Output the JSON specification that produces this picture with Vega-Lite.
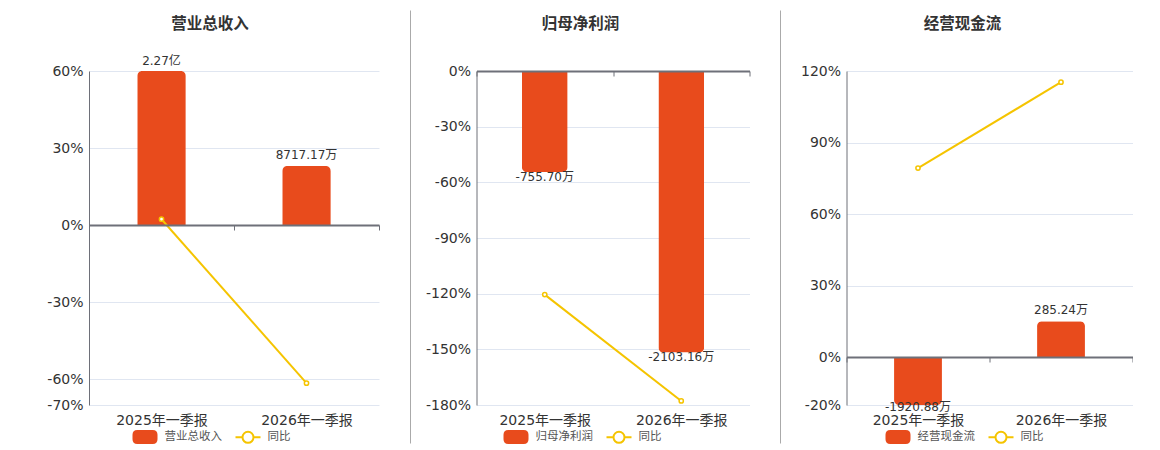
{
  "$schema": "https://vega.github.io/schema/vega-lite/v6.json",
  "padding": {"left": 46, "top": 10, "right": 0, "bottom": 0},
  "config": {
    "font": "DejaVu Sans, Noto Sans CJK SC",
    "view": {"stroke": null},
    "axis": {"labelFont": "DejaVu Sans, Noto Sans CJK SC", "labelColor": "#333", "labelFontSize": 14, "gridColor": "#e0e6f1", "domainColor": "#6e7079", "title": null},
    "legend": {"labelFont": "Noto Sans CJK SC", "labelFontSize": 11.5, "labelColor": "#555", "padding": 0}
  },
  "resolve": {"scale": {"color": "independent"}, "legend": {"color": "independent"}},
  "spacing": 30,
  "hconcat": [
    {
      "width": 290, "height": 334,
      "title": {"text": "营业总收入", "frame": "group", "anchor": "middle", "dx": -24, "offset": 15.5, "baseline": "middle", "fontSize": 15.5, "fontWeight": "bold", "color": "#333", "font": "Noto Sans CJK SC"},
      "data": {"values": [
        {"period": "2025年一季报", "amount": 22700, "label": "2.27亿", "yoy": 2.3},
        {"period": "2026年一季报", "amount": 8717.17, "label": "8717.17万", "yoy": -61.5}
      ]},
      "layer": [
        {"layer": [
          {"mark": {"type": "bar", "color": "#e84b1c", "width": {"band": 0.335}, "cornerRadiusTopLeft": 5, "cornerRadiusTopRight": 5},
           "encoding": {
             "x": {"field": "period", "type": "nominal", "sort": null, "scale": {"paddingInner": 0, "paddingOuter": 0},
                   "axis": {"orient": "bottom", "offset": -180, "labels": false, "domain": true, "domainWidth": 2, "ticks": true, "tickBand": "extent", "tickSize": 5, "tickColor": "#6e7079", "grid": false, "zindex": 1}},
             "y": {"field": "amount", "type": "quantitative", "scale": {"domain": [-26483, 22700], "nice": false, "zero": false}, "axis": null},
             "color": {"datum": "营业总收入", "scale": {"domain": ["营业总收入", "同比"], "range": ["#e84b1c", "#f5c400"]},
                       "legend": {"orient": "none", "legendX": 42.5, "legendY": 352.3, "direction": "horizontal", "title": null, "symbolSize": 625, "labelOffset": 6, "columnPadding": 9,
                                  "encode": {"symbols": {"update": {
                                    "shape": {"signal": "datum.value === '同比' ? 'M-1,0H-0.44M0.44,0H1M0.44,0A0.44,0.44 0 1 1 -0.44,0A0.44,0.44 0 1 1 0.44,0ZM0.44,0A0.44,0.44 0 1 0 -0.44,0A0.44,0.44 0 1 0 0.44,0Z' : 'M-0.62,-0.48H0.62Q0.92,-0.48 0.92,-0.18V0.18Q0.92,0.48 0.62,0.48H-0.62Q-0.92,0.48 -0.92,0.18V-0.18Q-0.92,-0.48 -0.62,-0.48Z'"},
                                    "fill": {"signal": "datum.value === '同比' ? '#ffffff' : '#e84b1c'"},
                                    "stroke": {"signal": "datum.value === '同比' ? '#f5c400' : '#e84b1c'"},
                                    "strokeWidth": {"value": 2}, "opacity": {"value": 1}, "fillOpacity": {"value": 1}, "strokeOpacity": {"value": 1}}}}}}
           }},
          {"mark": {"type": "text", "baseline": "middle", "dy": -10.5, "fontSize": 12, "color": "#333"},
           "encoding": {
             "x": {"field": "period", "type": "nominal", "sort": null},
             "y": {"field": "amount", "type": "quantitative"},
             "text": {"field": "label"}
           }}
        ]},
        {"layer": [
          {"mark": {"type": "line", "strokeWidth": 2},
           "encoding": {
             "x": {"field": "period", "type": "nominal", "sort": null, "axis": {"orient": "bottom", "domain": false, "ticks": false, "tickSize": 0, "labelPadding": 8, "grid": false, "labelAngle": 0}},
             "y": {"field": "yoy", "type": "quantitative", "scale": {"domain": [-70, 60], "nice": false, "zero": false},
                   "axis": {"orient": "left", "values": [60, 30, 0, -30, -60, -70], "labelExpr": "datum.value + '%'", "domain": true, "domainWidth": 1, "ticks": false, "tickSize": 0, "labelPadding": 6, "grid": true}},
             "color": {"datum": "同比"}
           }},
          {"mark": {"type": "point", "filled": true, "fill": "#ffffff", "stroke": "#f5c400", "strokeWidth": 1.5, "size": 18, "opacity": 1},
           "encoding": {
             "x": {"field": "period", "type": "nominal", "sort": null},
             "y": {"field": "yoy", "type": "quantitative"}
           }}
        ]}
      ],
      "resolve": {"scale": {"x": "independent", "y": "independent"}}
    },
    {
      "spacing": 13.5,
      "resolve": {"scale": {"color": "independent"}, "legend": {"color": "independent"}},
      "hconcat": [
        {"width": 1, "height": 433, "data": {"values": []}, "mark": {"type": "rule"},
         "encoding": {"y": {"field": "v", "type": "quantitative", "scale": {"domain": [0, 1]},
                            "axis": {"orient": "left", "position": -61, "domain": true, "domainColor": "#aaaaaa", "domainWidth": 1, "labels": false, "ticks": false, "grid": false}}}},
        {
          "width": 273, "height": 334,
          "title": {"text": "归母净利润", "frame": "group", "anchor": "middle", "dx": -32.5, "offset": 25, "baseline": "middle", "fontSize": 15.5, "fontWeight": "bold", "color": "#333", "font": "Noto Sans CJK SC"},
          "data": {"values": [
            {"period": "2025年一季报", "amount": -755.70, "label": "-755.70万", "yoy": -120.5},
            {"period": "2026年一季报", "amount": -2103.16, "label": "-2103.16万", "yoy": -177.8}
          ]},
          "layer": [
            {"layer": [
              {"mark": {"type": "bar", "color": "#e84b1c", "width": {"band": 0.335}, "cornerRadiusBottomLeft": 5, "cornerRadiusBottomRight": 5},
               "encoding": {
                 "x": {"field": "period", "type": "nominal", "sort": null, "scale": {"paddingInner": 0, "paddingOuter": 0},
                       "axis": {"orient": "bottom", "offset": -334, "labels": false, "domain": true, "domainWidth": 2, "ticks": true, "tickBand": "extent", "tickSize": 5, "tickColor": "#6e7079", "grid": false, "zindex": 1}},
                 "y": {"field": "amount", "type": "quantitative", "scale": {"domain": [-2496, 0], "nice": false, "zero": false}, "axis": null},
                 "color": {"datum": "归母净利润", "scale": {"domain": ["归母净利润", "同比"], "range": ["#e84b1c", "#f5c400"]},
                           "legend": {"orient": "none", "legendX": 26, "legendY": 352.3, "direction": "horizontal", "title": null, "symbolSize": 625, "labelOffset": 6, "columnPadding": 9,
                                      "encode": {"symbols": {"update": {
                                        "shape": {"signal": "datum.value === '同比' ? 'M-1,0H-0.44M0.44,0H1M0.44,0A0.44,0.44 0 1 1 -0.44,0A0.44,0.44 0 1 1 0.44,0ZM0.44,0A0.44,0.44 0 1 0 -0.44,0A0.44,0.44 0 1 0 0.44,0Z' : 'M-0.62,-0.48H0.62Q0.92,-0.48 0.92,-0.18V0.18Q0.92,0.48 0.62,0.48H-0.62Q-0.92,0.48 -0.92,0.18V-0.18Q-0.92,-0.48 -0.62,-0.48Z'"},
                                        "fill": {"signal": "datum.value === '同比' ? '#ffffff' : '#e84b1c'"},
                                        "stroke": {"signal": "datum.value === '同比' ? '#f5c400' : '#e84b1c'"},
                                        "strokeWidth": {"value": 2}, "opacity": {"value": 1}, "fillOpacity": {"value": 1}, "strokeOpacity": {"value": 1}}}}}}
               }},
              {"mark": {"type": "text", "baseline": "middle", "dy": 5, "fontSize": 12, "color": "#333"},
               "encoding": {
                 "x": {"field": "period", "type": "nominal", "sort": null},
                 "y": {"field": "amount", "type": "quantitative"},
                 "text": {"field": "label"}
               }}
            ]},
            {"layer": [
              {"mark": {"type": "line", "strokeWidth": 2},
               "encoding": {
                 "x": {"field": "period", "type": "nominal", "sort": null, "axis": {"orient": "bottom", "domain": false, "ticks": false, "tickSize": 0, "labelPadding": 8, "grid": false, "labelAngle": 0}},
                 "y": {"field": "yoy", "type": "quantitative", "scale": {"domain": [-180, 0], "nice": false, "zero": false},
                       "axis": {"orient": "left", "values": [0, -30, -60, -90, -120, -150, -180], "labelExpr": "datum.value + '%'", "domain": true, "domainWidth": 1, "ticks": false, "tickSize": 0, "labelPadding": 6, "grid": true}},
                 "color": {"datum": "同比"}
               }},
              {"mark": {"type": "point", "filled": true, "fill": "#ffffff", "stroke": "#f5c400", "strokeWidth": 1.5, "size": 18, "opacity": 1},
               "encoding": {
                 "x": {"field": "period", "type": "nominal", "sort": null},
                 "y": {"field": "yoy", "type": "quantitative"}
               }}
            ]}
          ],
          "resolve": {"scale": {"x": "independent", "y": "independent"}}
        }
      ]
    },
    {
      "spacing": 18.5,
      "resolve": {"scale": {"color": "independent"}, "legend": {"color": "independent"}},
      "hconcat": [
        {"width": 1, "height": 433, "data": {"values": []}, "mark": {"type": "rule"},
         "encoding": {"y": {"field": "v", "type": "quantitative", "scale": {"domain": [0, 1]},
                            "axis": {"orient": "left", "position": -61, "domain": true, "domainColor": "#aaaaaa", "domainWidth": 1, "labels": false, "ticks": false, "grid": false}}}},
        {
          "width": 286, "height": 334,
          "title": {"text": "经营现金流", "frame": "group", "anchor": "middle", "dx": -27, "offset": 25, "baseline": "middle", "fontSize": 15.5, "fontWeight": "bold", "color": "#333", "font": "Noto Sans CJK SC"},
          "data": {"values": [
            {"period": "2025年一季报", "amount": -1920.88, "label": "-1920.88万", "yoy": 79.3},
            {"period": "2026年一季报", "amount": 285.24, "label": "285.24万", "yoy": 115.3}
          ]},
          "layer": [
            {"layer": [
              {"transform": [{"filter": "datum.amount < 0"}],
               "mark": {"type": "bar", "color": "#e84b1c", "width": {"band": 0.335}, "cornerRadiusBottomLeft": 5, "cornerRadiusBottomRight": 5},
               "encoding": {
                 "x": {"field": "period", "type": "nominal", "sort": null, "scale": {"domain": ["2025年一季报", "2026年一季报"], "paddingInner": 0, "paddingOuter": 0},
                       "axis": {"orient": "bottom", "offset": -48, "labels": false, "domain": true, "domainWidth": 2, "ticks": true, "tickBand": "extent", "tickSize": 5, "tickColor": "#6e7079", "grid": false, "zindex": 1}},
                 "y": {"field": "amount", "type": "quantitative", "scale": {"domain": [-384, 2286], "nice": false, "zero": false, "clamp": true}, "axis": null},
                 "color": {"datum": "经营现金流", "scale": {"domain": ["经营现金流", "同比"], "range": ["#e84b1c", "#f5c400"]},
                           "legend": {"orient": "none", "legendX": 38, "legendY": 352.3, "direction": "horizontal", "title": null, "symbolSize": 625, "labelOffset": 6, "columnPadding": 9,
                                      "encode": {"symbols": {"update": {
                                        "shape": {"signal": "datum.value === '同比' ? 'M-1,0H-0.44M0.44,0H1M0.44,0A0.44,0.44 0 1 1 -0.44,0A0.44,0.44 0 1 1 0.44,0ZM0.44,0A0.44,0.44 0 1 0 -0.44,0A0.44,0.44 0 1 0 0.44,0Z' : 'M-0.62,-0.48H0.62Q0.92,-0.48 0.92,-0.18V0.18Q0.92,0.48 0.62,0.48H-0.62Q-0.92,0.48 -0.92,0.18V-0.18Q-0.92,-0.48 -0.62,-0.48Z'"},
                                        "fill": {"signal": "datum.value === '同比' ? '#ffffff' : '#e84b1c'"},
                                        "stroke": {"signal": "datum.value === '同比' ? '#f5c400' : '#e84b1c'"},
                                        "strokeWidth": {"value": 2}, "opacity": {"value": 1}, "fillOpacity": {"value": 1}, "strokeOpacity": {"value": 1}}}}}}
               }},
              {"transform": [{"filter": "datum.amount >= 0"}],
               "mark": {"type": "bar", "color": "#e84b1c", "width": {"band": 0.335}, "cornerRadiusTopLeft": 5, "cornerRadiusTopRight": 5},
               "encoding": {
                 "x": {"field": "period", "type": "nominal", "sort": null},
                 "y": {"field": "amount", "type": "quantitative"},
                 "color": {"datum": "经营现金流"}
               }},
              {"transform": [{"filter": "datum.amount >= 0"}],
               "mark": {"type": "text", "baseline": "middle", "dy": -11, "fontSize": 12, "color": "#333"},
               "encoding": {
                 "x": {"field": "period", "type": "nominal", "sort": null},
                 "y": {"field": "amount", "type": "quantitative"},
                 "text": {"field": "label"}
               }},
              {"transform": [{"filter": "datum.amount < 0"}],
               "mark": {"type": "text", "baseline": "middle", "dy": 2, "fontSize": 12, "color": "#333"},
               "encoding": {
                 "x": {"field": "period", "type": "nominal", "sort": null},
                 "y": {"field": "amount", "type": "quantitative"},
                 "text": {"field": "label"}
               }}
            ]},
            {"layer": [
              {"mark": {"type": "line", "strokeWidth": 2},
               "encoding": {
                 "x": {"field": "period", "type": "nominal", "sort": null, "axis": {"orient": "bottom", "domain": false, "ticks": false, "tickSize": 0, "labelPadding": 8, "grid": false, "labelAngle": 0}},
                 "y": {"field": "yoy", "type": "quantitative", "scale": {"domain": [-20, 120], "nice": false, "zero": false},
                       "axis": {"orient": "left", "values": [120, 90, 60, 30, 0, -20], "labelExpr": "datum.value + '%'", "domain": true, "domainWidth": 1, "ticks": false, "tickSize": 0, "labelPadding": 6, "grid": true}},
                 "color": {"datum": "同比"}
               }},
              {"mark": {"type": "point", "filled": true, "fill": "#ffffff", "stroke": "#f5c400", "strokeWidth": 1.5, "size": 18, "opacity": 1},
               "encoding": {
                 "x": {"field": "period", "type": "nominal", "sort": null},
                 "y": {"field": "yoy", "type": "quantitative"}
               }}
            ]}
          ],
          "resolve": {"scale": {"x": "independent", "y": "independent"}}
        }
      ]
    }
  ]
}
